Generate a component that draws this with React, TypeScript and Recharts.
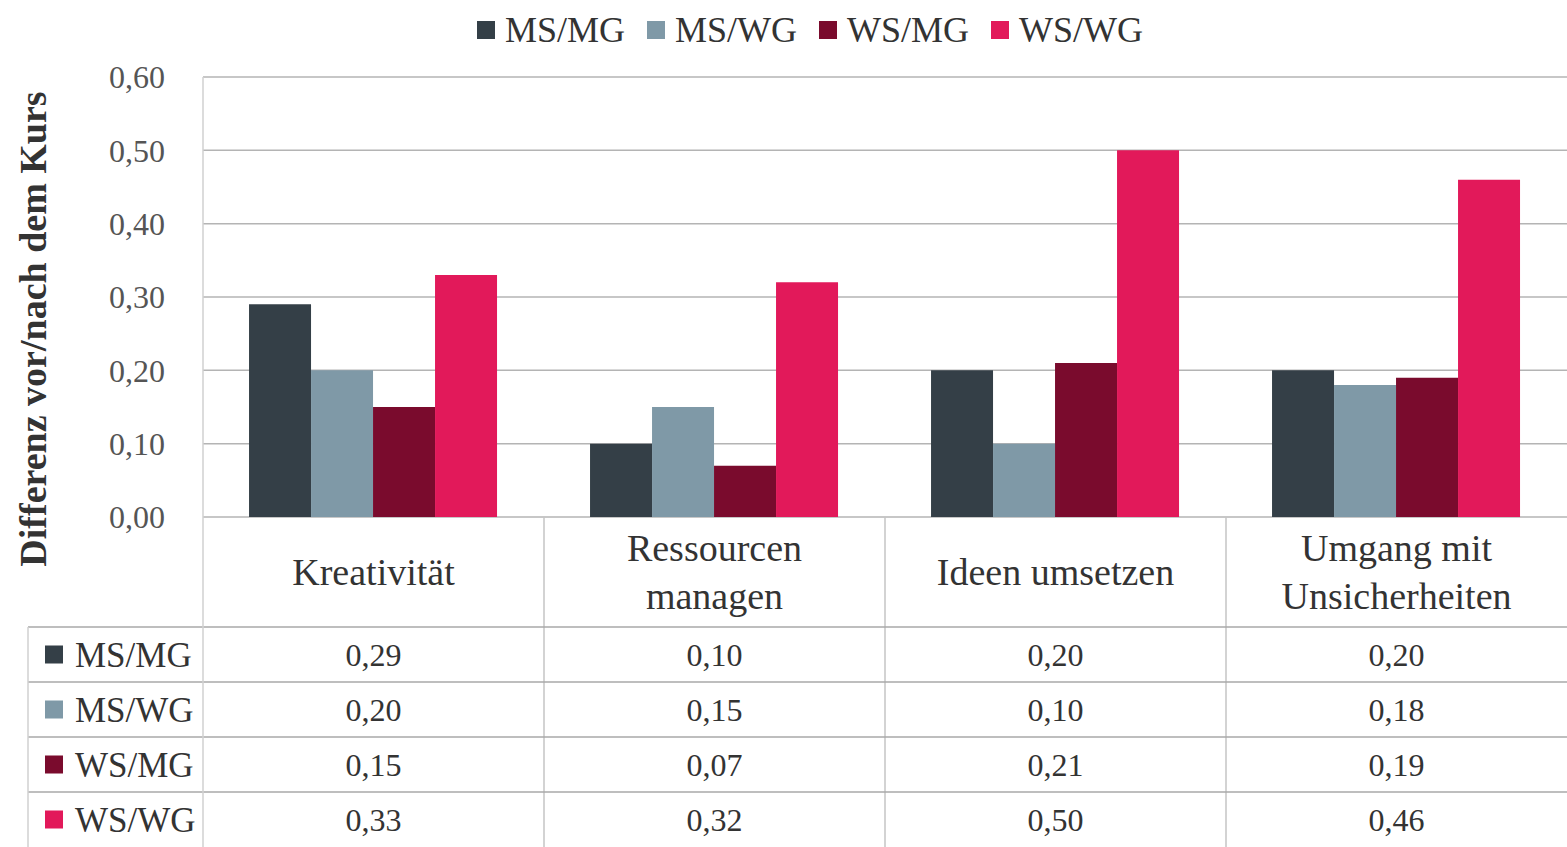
import React from "react";
import { BarChart, Bar, XAxis, YAxis, CartesianGrid } from "recharts";

const categories = ["Kreativität", "Ressourcen\nmanagen", "Ideen umsetzen", "Umgang mit\nUnsicherheiten"];
const seriesNames = ["MS/MG", "MS/WG", "WS/MG", "WS/WG"];
const msMg = [0.29, 0.10, 0.20, 0.20];
const msWg = [0.20, 0.15, 0.10, 0.18];
const wsMg = [0.15, 0.07, 0.21, 0.19];
const wsWg = [0.33, 0.32, 0.50, 0.46];
const seriesColors = ["#343f47", "#7f99a7", "#7a0b2d", "#e2195a"];
const yTicks = [0, 0.1, 0.2, 0.3, 0.4, 0.5, 0.6];
const yAxisTitle = "Differenz  vor/nach dem Kurs";

const seriesValues = [msMg, msWg, wsMg, wsWg];
const keys = ["msMg", "msWg", "wsMg", "wsWg"];
const data = categories.map((c, i) => {
  const row: any = { category: c };
  keys.forEach((k, s) => (row[k] = seriesValues[s][i]));
  return row;
});

const FONT = "'Liberation Serif', 'DejaVu Serif', serif";
const fmt = (v: number) => v.toFixed(2).replace(".", ",");

const HEADER_H = 110;
const ROW_H = 55;
const LEFT_COL = 175;

function TableTick(props: any) {
  const { x, y, payload, index } = props;
  const half = payload && payload.offset ? payload.offset : 170.5;
  const lines = String(payload.value).split("\n");
  const left = x - half;
  const right = x + half;
  const tableBottom = y + HEADER_H + ROW_H * seriesNames.length;
  return (
    <g>
      {lines.map((ln: string, li: number) => (
        <text
          key={li}
          x={x}
          y={lines.length === 1 ? y + HEADER_H / 2 : y + 31 + li * 48}
          dy="0.35em"
          textAnchor="middle"
          fontFamily={FONT}
          fontSize={38}
          fill="#333"
        >
          {ln}
        </text>
      ))}
      {index < categories.length - 1 && (
        <line x1={right} x2={right} y1={y} y2={tableBottom} stroke="#c4c4c4" strokeWidth={1.5} />
      )}
      {seriesNames.map((s, i) => (
        <line
          key={"h" + i}
          x1={index === 0 ? left - LEFT_COL : left}
          x2={right}
          y1={y + HEADER_H + ROW_H * i}
          y2={y + HEADER_H + ROW_H * i}
          stroke="#a8a8a8"
          strokeWidth={1.5}
        />
      ))}
      {seriesValues.map((vals, i) => (
        <text
          key={"v" + i}
          x={x}
          y={y + HEADER_H + ROW_H * i + ROW_H / 2}
          dy="0.35em"
          textAnchor="middle"
          fontFamily={FONT}
          fontSize={32}
          fill="#333"
        >
          {fmt(vals[index])}
        </text>
      ))}
      {index === 0 && (
        <g>
          <line x1={left} x2={left} y1={y - 440} y2={tableBottom} stroke="#d0d0d0" strokeWidth={1.5} />
          <line x1={left - LEFT_COL} x2={left - LEFT_COL} y1={y + HEADER_H} y2={tableBottom} stroke="#d0d0d0" strokeWidth={1.5} />
          {seriesNames.map((s, i) => {
            const cy = y + HEADER_H + ROW_H * i + ROW_H / 2;
            return (
              <g key={"l" + i}>
                <rect x={left - 158} y={cy - 9} width={18} height={18} fill={seriesColors[i]} />
                <text x={left - 128} y={cy} dy="0.35em" fontFamily={FONT} fontSize={35} fill="#333">
                  {s}
                </text>
              </g>
            );
          })}
        </g>
      )}
    </g>
  );
}

function YTitle(props: any) {
  const vb = props.viewBox || { x: 0, y: 77, width: 203, height: 440 };
  const cx = 33;
  const cy = vb.y + vb.height / 2 + 32;
  return (
    <text
      x={cx}
      y={cy}
      transform={`rotate(-90 ${cx} ${cy})`}
      textAnchor="middle"
      dominantBaseline="central"
      fontFamily={FONT}
      fontWeight="bold"
      fontSize={38}
      fill="#333"
    >
      {yAxisTitle}
    </text>
  );
}

export default function App() {
  return (
    <div style={{ position: "absolute", left: 0, top: 0, width: 1567, height: 847, background: "#fff" }}>
      <div
        style={{
          position: "absolute",
          top: 8,
          left: 10,
          width: 1600,
          display: "flex",
          justifyContent: "center",
          gap: 22,
          fontFamily: FONT,
          fontSize: 36,
          color: "#333",
          lineHeight: "44px",
        }}
      >
        {seriesNames.map((s, i) => (
          <div key={s} style={{ display: "flex", alignItems: "center" }}>
            <span style={{ display: "inline-block", width: 18, height: 18, background: seriesColors[i], marginRight: 10 }} />
            <span>{s}</span>
          </div>
        ))}
      </div>
      <BarChart
        width={1567}
        height={847}
        data={data}
        margin={{ top: 77, right: 0, bottom: 0, left: 0 }}
        barCategoryGap="13.5%"
        barGap={0}
      >
        <CartesianGrid horizontal vertical={false} stroke="#b4b4b4" strokeWidth={1.5} />
        <XAxis
          dataKey="category"
          height={330}
          interval={0}
          tickLine={false}
          axisLine={false}
          tickSize={0}
          tickMargin={0}
          tick={<TableTick />}
        />
        <YAxis
          width={203}
          domain={[0, 0.6]}
          ticks={yTicks}
          tickFormatter={fmt}
          tickLine={false}
          axisLine={false}
          tickSize={0}
          tickMargin={38}
          tick={{ fontFamily: FONT, fontSize: 32, fill: "#555" }}
          label={{ content: (p: any) => <YTitle {...p} /> }}
        />
        {keys.map((k, i) => (
          <Bar key={k} dataKey={k} name={seriesNames[i]} fill={seriesColors[i]} isAnimationActive={false} />
        ))}
      </BarChart>
    </div>
  );
}
